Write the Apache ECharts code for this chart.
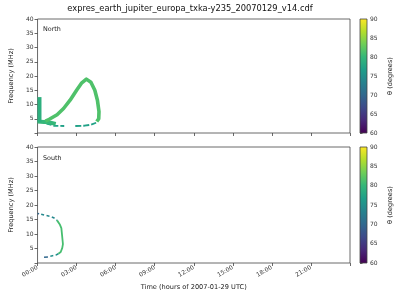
<!DOCTYPE html>
<html><head><meta charset="utf-8">
<script src="https://cdn.jsdelivr.net/npm/echarts@6/dist/echarts.min.js"></script>
<style>html,body{margin:0;padding:0;background:#fff}#c{width:400px;height:300px}</style>
</head><body><div id="c"></div>
<script>
// ---- data (time in hours of 2007-01-29 UTC, frequency in MHz, theta in degrees) ----
const titleText = 'expres_earth_jupiter_europa_txka-y235_20070129_v14.cdf';
const timeTicks = [0, 3, 6, 9, 12, 15, 18, 21];
const freqTicks = [5, 10, 15, 20, 25, 30, 35, 40];
const thetaTicks = [60, 65, 70, 75, 80, 85, 90];

// North
const nBarT = [0.15, 0.15];
const nBarF = [3.8, 12.6];
const nBarTheta = 79;
const nBaseT = [0.0, 0.5, 1.0, 1.4];
const nBaseF = [4.0, 3.9, 3.6, 3.2];
const nBaseTheta = 80;
const nLoopT = [0.6, 0.9, 1.2, 1.5, 2.0, 2.5, 3.0, 3.4, 3.75, 4.1, 4.4, 4.6, 4.72, 4.7, 4.55];
const nLoopF = [4.2, 4.8, 5.6, 6.4, 8.6, 11.5, 15.0, 17.6, 18.9, 17.8, 15.0, 11.5, 7.5, 5.0, 4.0];
const nLoopTheta = 81.5;
const nLow1T = [0.7, 1.3, 2.05];
const nLow1F = [3.3, 2.5, 2.45];
const nLow2T = [2.9, 3.6, 4.1, 4.5];
const nLow2F = [2.45, 2.55, 2.9, 3.6];
const nLowTheta = 77;

// South
const sTop1T = [0.0, 0.12];
const sTop1F = [17.1, 17.0];
const sTop1Theta = 70;
const sTop2T = [0.28, 0.65, 0.98, 1.28, 1.5];
const sTop2F = [16.8, 16.4, 16.1, 15.5, 14.7];
const sTop2Theta = 74;
const sMidT = [1.5, 1.7, 1.83, 1.88, 1.93, 1.95, 1.9, 1.78, 1.6];
const sMidF = [14.7, 13.4, 12.0, 9.8, 7.5, 6.5, 5.2, 3.8, 3.2];
const sMidTheta = 81;
const sLow1T = [1.6, 1.4, 1.15, 0.9];
const sLow1F = [3.2, 2.7, 2.5, 2.3];
const sLow1Theta = 75;
const sLow2T = [0.5, 0.8];
const sLow2F = [1.95, 2.05];
const sLow2Theta = 70;

// ---- colormap ----
const viridis = ['#440154','#482878','#3e4989','#31688e','#26828e','#1f9e89','#35b779','#6ece58','#b5de2b','#fde725'];
function hex2rgb(h){return [1,3,5].map(i=>parseInt(h.substr(i,2),16));}
function colorOf(theta){
  let u = (theta - 60) / 30; u = Math.max(0, Math.min(1, u));
  const p = u * (viridis.length - 1); const i = Math.min(Math.floor(p), viridis.length - 2); const f = p - i;
  const a = hex2rgb(viridis[i]), b = hex2rgb(viridis[i+1]);
  return 'rgb(' + a.map((v,k)=>Math.round(v + (b[k]-v)*f)).join(',') + ')';
}
const zip = (t, f) => t.map((v, i) => [v, f[i]]);

const chart = echarts.init(document.getElementById('c'), null, {renderer: 'canvas'});
const FONT = 'DejaVu Sans';
const axisCol = '#444';
const gridTop = {left: 31, top: 19, width: 319, height: 114, show: true, borderColor: axisCol, borderWidth: 0.8};
const gridBot = {left: 31, top: 147, width: 319, height: 116, show: true, borderColor: axisCol, borderWidth: 0.8};
const cbTop = {left: 360, top: 19, width: 7, height: 114};
const cbBot = {left: 360, top: 147, width: 7, height: 116};

function timeFmt(v){ if (timeTicks.indexOf(v) < 0) return ''; return (v < 10 ? '0' : '') + v + ':00'; }
function freqFmt(v){ return freqTicks.indexOf(v) < 0 ? '' : String(v); }
function thetaFmt(v){ return thetaTicks.indexOf(v) < 0 ? '' : String(v); }

function xAxis(gi, labels){
  return {type: 'value', gridIndex: gi, min: 0, max: 24, interval: 3,
    axisLine: {show: false}, splitLine: {show: false},
    axisTick: {show: true, length: 3, lineStyle: {color: axisCol, width: 0.8}},
    axisLabel: {show: labels, rotate: 30, formatter: timeFmt, fontSize: 6, fontFamily: FONT, color: '#333', margin: 4},
    name: labels ? 'Time (hours of 2007-01-29 UTC)' : '', nameLocation: 'middle', nameGap: 21,
    nameTextStyle: {fontSize: 6.6, fontFamily: FONT, color: '#222'}};
}
function yAxis(gi){
  return {type: 'value', gridIndex: gi, min: 0, max: 40, interval: 5,
    axisLine: {show: false}, splitLine: {show: false},
    axisTick: {show: true, length: 3, lineStyle: {color: axisCol, width: 0.8}},
    axisLabel: {formatter: freqFmt, fontSize: 6, fontFamily: FONT, color: '#333', margin: 4},
    name: 'Frequency (MHz)', nameLocation: 'middle', nameGap: 17,
    nameTextStyle: {fontSize: 6.6, fontFamily: FONT, color: '#222'}};
}
function cbX(gi){ return {type: 'value', gridIndex: gi, min: 0, max: 1, show: false}; }
function cbY(gi){
  return {type: 'value', gridIndex: gi, min: 60, max: 90, interval: 5, position: 'right',
    axisLine: {show: false}, splitLine: {show: false},
    axisTick: {show: true, length: 2.5, lineStyle: {color: axisCol, width: 0.8}},
    axisLabel: {formatter: thetaFmt, fontSize: 6, fontFamily: FONT, color: '#333', margin: 3},
    name: 'θ (degrees)', nameLocation: 'middle', nameGap: 20, nameRotate: 90,
    nameTextStyle: {fontSize: 6.6, fontFamily: FONT, color: '#222'}};
}
const stops = viridis.map((c, i) => ({offset: i / (viridis.length - 1), color: c}));
function colorbar(gi){
  return {type: 'custom', xAxisIndex: gi, yAxisIndex: gi, silent: true, data: [[0, 60, 90]],
    renderItem: function(params, api){
      const p0 = api.coord([0, api.value(2)]);
      const p1 = api.coord([1, api.value(1)]);
      return {type: 'rect', shape: {x: p0[0], y: p0[1], width: p1[0] - p0[0], height: p1[1] - p0[1]},
        style: {fill: new echarts.graphic.LinearGradient(0, 1, 0, 0, stops), stroke: axisCol, lineWidth: 0.8}};
    }};
}
function seg(gi, t, f, theta, width, type){
  return {type: 'line', xAxisIndex: gi, yAxisIndex: gi, data: zip(t, f), symbol: 'none', silent: true,
    smooth: false, lineStyle: {color: colorOf(theta), width: width, type: type || 'solid', cap: 'butt', join: 'round'}};
}

chart.setOption({
  animation: false,
  title: [
    {text: titleText, left: 190, top: 5, padding: 0, textAlign: 'center', textStyle: {fontSize: 8.3, fontWeight: 'normal', fontFamily: FONT, color: '#111'}},
    {text: 'North', left: 43, top: 26, padding: 0, textStyle: {fontSize: 6.4, fontWeight: 'normal', fontFamily: FONT, color: '#222'}},
    {text: 'South', left: 43, top: 155, padding: 0, textStyle: {fontSize: 6.4, fontWeight: 'normal', fontFamily: FONT, color: '#222'}}
  ],
  grid: [gridTop, gridBot, cbTop, cbBot],
  xAxis: [xAxis(0, false), xAxis(1, true), cbX(2), cbX(3)],
  yAxis: [yAxis(0), yAxis(1), cbY(2), cbY(3)],
  series: [
    seg(0, nLow1T, nLow1F, nLowTheta, 1.8, [5, 2]),
    seg(0, nLow2T, nLow2F, nLowTheta, 1.8, [6, 2]),
    seg(0, nBaseT, nBaseF, nBaseTheta, 4),
    seg(0, nLoopT, nLoopF, nLoopTheta, 3.6),
    seg(0, nBarT, nBarF, nBarTheta, 4),
    seg(1, sTop1T, sTop1F, sTop1Theta, 1.5),
    seg(1, sTop2T, sTop2F, sTop2Theta, 1.5, [3, 2.5]),
    seg(1, sMidT, sMidF, sMidTheta, 1.8),
    seg(1, sLow1T, sLow1F, sLow1Theta, 1.5, [3, 2.5]),
    seg(1, sLow2T, sLow2F, sLow2Theta, 1.5),
    colorbar(2),
    colorbar(3)
  ]
});
</script></body></html>
